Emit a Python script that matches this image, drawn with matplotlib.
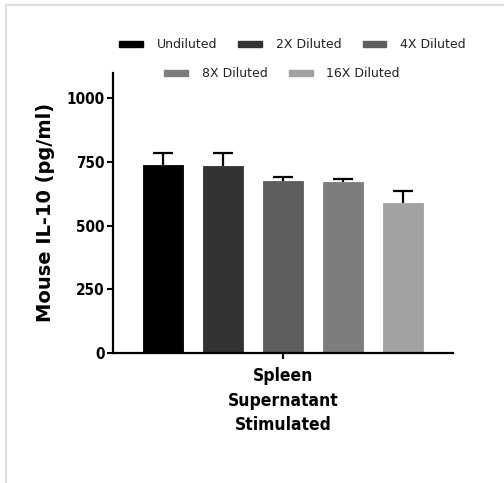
import numpy as np
import matplotlib
matplotlib.use('Agg')
import matplotlib.pyplot as plt
from matplotlib.lines import Line2D
from matplotlib.patches import Patch

# data
series = ['Undiluted', '2X Diluted', '4X Diluted', '8X Diluted', '16X Diluted']
means = [736, 735, 674, 671, 587]
errors = [48, 51, 18, 12, 50]
colors = ['#000000', '#333333', '#5e5e5e', '#7d7d7d', '#a2a2a5']
group_label = 'Spleen\nSupernatant\nStimulated'
yticks = [0, 250, 500, 750, 1000]

fig = plt.figure(figsize=(5.04, 4.83), dpi=100)
ax = fig.add_axes([0.2242, 0.2698, 0.6746, 0.5793])

x = np.arange(len(series))
ax.bar(x, means, width=0.667, color=colors, edgecolor=colors, linewidth=0.6, zorder=2)

# only upper error bars, GraphPad style
eb = ax.errorbar(x, means, yerr=[np.zeros(len(means)), errors], fmt='none',
                 ecolor='black', elinewidth=1.6, capsize=7.2, capthick=1.6, zorder=3)
for cl in eb[1]:
    if np.allclose(cl.get_ydata(), means):
        cl.set_visible(False)

ax.set_xlim(-0.833, 4.833)
ax.set_ylim(0, 1100)
ax.set_yticks(yticks)
ax.set_yticklabels([str(v) for v in yticks], fontsize=11, fontweight='bold',
                   fontstretch='condensed')
ax.set_xticks([2])
ax.set_xticklabels([group_label], fontsize=12.5, fontweight='bold',
                   fontstretch='condensed', linespacing=1.45)

ax.spines['top'].set_visible(False)
ax.spines['right'].set_visible(False)
ax.spines['left'].set_linewidth(1.6)
ax.spines['bottom'].set_linewidth(1.6)
ax.tick_params(axis='both', direction='out', length=4.5, width=1.5, pad=1.5)
ax.tick_params(axis='x', pad=6)

ax.set_ylabel('Mouse IL-10 (pg/ml)', fontsize=14, fontweight='bold', labelpad=8)

# legend in two centered rows
handles = [Patch(facecolor=c, edgecolor=c) for c in colors]
leg_kw = dict(loc='center', frameon=False, fontsize=9, handlelength=1.9,
              handleheight=0.45, columnspacing=1.7, handletextpad=1.1,
              labelcolor='#222222')
fig.legend(handles[:3], series[:3], bbox_to_anchor=(0.58, 0.907), ncol=3, **leg_kw)
fig.legend(handles[3:], series[3:], bbox_to_anchor=(0.56, 0.847), ncol=2, **leg_kw)

# light frame at top and left
fig.add_artist(Line2D([0.011, 0.011], [0.0, 0.989], transform=fig.transFigure,
                      color='#dddddd', linewidth=1.5))
fig.add_artist(Line2D([0.011, 1.0], [0.989, 0.989], transform=fig.transFigure,
                      color='#dddddd', linewidth=1.5))

fig.savefig('out.png', dpi=100)
